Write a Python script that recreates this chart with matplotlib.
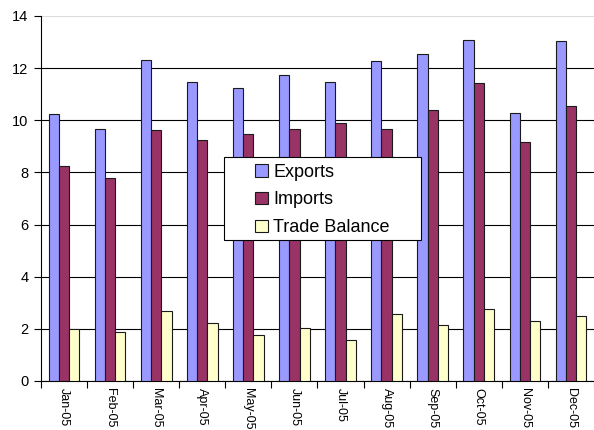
import numpy as np
import matplotlib.pyplot as plt
from matplotlib.patches import Rectangle

plt.rcParams['font.family'] = ['Liberation Sans', 'DejaVu Sans']

# monthly trade data
months = ['Jan-05', 'Feb-05', 'Mar-05', 'Apr-05', 'May-05', 'Jun-05',
          'Jul-05', 'Aug-05', 'Sep-05', 'Oct-05', 'Nov-05', 'Dec-05']
exports = [10.25, 9.67, 12.32, 11.45, 11.22, 11.72, 11.46, 12.26, 12.53, 13.07, 10.29, 13.02]
imports = [8.26, 7.77, 9.62, 9.23, 9.46, 9.65, 9.88, 9.68, 10.38, 11.43, 9.15, 10.54]
trade_balance = [1.99, 1.87, 2.69, 2.21, 1.75, 2.03, 1.56, 2.57, 2.14, 2.76, 2.29, 2.48]

W, H = 594, 430
fig = plt.figure(figsize=(W / 100, H / 100), dpi=100)
ax = fig.add_axes([0.069, 0.114, 0.931, 0.849])

x = np.arange(len(months))
w = 1 / 4.5
ax.bar(x - w, exports, w, color='#9999FF', edgecolor='#1a1a1a', linewidth=0.8, label='Exports', zorder=3)
ax.bar(x, imports, w, color='#993366', edgecolor='#1a1a1a', linewidth=0.8, label='Imports', zorder=3)
ax.bar(x + w, trade_balance, w, color='#FFFFCC', edgecolor='#1a1a1a', linewidth=0.8, label='Trade Balance', zorder=3)

ax.set_xlim(-0.5, len(months) - 0.5)
ax.set_ylim(0, 14)
ax.set_yticks(range(0, 15, 2))
ax.tick_params(axis='y', labelsize=10.5, length=5, width=0.8, direction='out', pad=4)

# ticks between categories, labels at centres
ax.set_xticks(np.arange(-0.5, len(months), 1))
ax.set_xticklabels([])
ax.set_xticks(x, minor=True)
ax.set_xticklabels(months, minor=True, rotation=270, fontsize=9)
ax.tick_params(axis='x', which='major', length=5, width=0.8)
ax.tick_params(axis='x', which='minor', length=0, pad=5)

ax.yaxis.grid(True, color='black', linewidth=0.8, zorder=0)
for line, t in zip(ax.get_ygridlines(), ax.get_yticks()):
    if t == 14:
        line.set_color('#dddddd')
ax.set_axisbelow(True)

for s in ['top', 'right']:
    ax.spines[s].set_visible(False)
ax.spines['left'].set_linewidth(0.8)
ax.spines['bottom'].set_linewidth(0.8)

# legend box drawn separately so the padding can be wider than it is tall
box = Rectangle((224 / W, 1 - 240 / H), (421 - 224) / W, (240 - 157) / H,
                transform=fig.transFigure, facecolor='white', edgecolor='black',
                linewidth=0.8, zorder=4)
fig.add_artist(box)
leg = ax.legend(loc='center left', bbox_to_anchor=(255 / W, 1 - 200 / H), bbox_transform=fig.transFigure,
                borderaxespad=0, borderpad=0, frameon=False,
                fontsize=13, handlelength=0.7, handleheight=0.7, handletextpad=0.3,
                labelspacing=0.6)
leg.set_zorder(5)
fig.add_artist(leg)

plt.savefig('out.png', dpi=100)
